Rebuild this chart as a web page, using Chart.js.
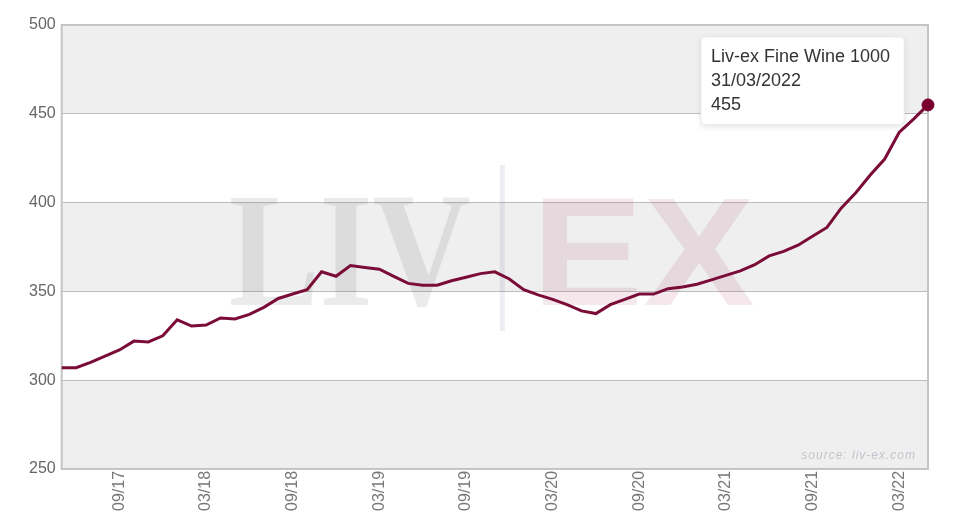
<!DOCTYPE html>
<html>
<head>
<meta charset="utf-8">
<title>Liv-ex Fine Wine 1000</title>
<script src="https://cdn.jsdelivr.net/npm/chart.js"></script>
<style>
    html, body { margin: 0; padding: 0; background: #fff; }
    canvas { display: block; }
</style>
</head>
<body>
<canvas id="lx1000" width="970" height="532"></canvas>
<script>
// monthly index values, first to last point (31/03/2022 = 455)
var seriesName = 'Liv-ex Fine Wine 1000'
var lastDate = '31/03/2022'
var indexValues = [
    307, 307, 310, 313.5, 317, 322, 321.5, 325, 334, 330.5,
    331, 335, 334.5, 337, 341, 346, 348.5, 351, 361, 358.5,
    364.5, 363.5, 362.5, 358.5, 354.5, 353.5, 353.5, 356, 358, 360,
    361, 357, 351, 348, 345.5, 342.5, 339, 337.5, 342.5, 345.5,
    348.5, 348.5, 351.5, 352.5, 354, 356.5, 359, 361.5, 365, 370,
    372.5, 376, 381, 386, 397, 405.5, 415.5, 424.5, 439.5, 447,
    455
]
var tickPositions = [4, 10, 16, 22, 28, 34, 40, 46, 52, 58]
var tickLabels = ['09/17', '03/18', '09/18', '03/19', '09/19', '03/20', '09/20', '03/21', '09/21', '03/22']
var yTicks = [250, 300, 350, 400, 450, 500]
var grayBands = [[250, 300], [350, 400], [450, 500]]

var lineColor = '#7a0c37'
var lastIndex = indexValues.length - 1

Chart.defaults.font.family = '"Liberation Sans", Arial, sans-serif'

// tooltip sits fixed in the top right corner of the plot
Chart.Tooltip.positioners.corner = function() {
    var area = this.chart.chartArea
    return { x: area.right - 223, y: area.top + 12 }
}

var backdrop = {
    id: 'backdrop',
    beforeDraw: function(chart) {
        var ctx = chart.ctx, area = chart.chartArea, y = chart.scales.y
        ctx.save()
        ctx.fillStyle = '#fff'
        ctx.fillRect(0, 0, chart.width, chart.height)
        ctx.fillStyle = '#efefef'
        grayBands.forEach(function(b) {
            var top = y.getPixelForValue(b[1])
            var bottom = y.getPixelForValue(b[0])
            ctx.fillRect(area.left, top, area.right - area.left, bottom - top)
        })
        ctx.restore()
    },
    beforeDatasetsDraw: function(chart) {
        var ctx = chart.ctx, area = chart.chartArea
        var cx = (area.left + area.right) / 2
        var cy = (area.top + area.bottom) / 2
        var w

        // LIV | EX watermark
        ctx.save()
        ctx.textBaseline = 'alphabetic'
        ctx.textAlign = 'left'
        ctx.fillStyle = 'rgba(0, 0, 0, 0.08)'
        ctx.font = '700 163px "Liberation Serif"'
        w = ctx.measureText('LIV').width
        ctx.translate(cx - 266, cy + 58)
        ctx.scale(242 / w, 1)
        ctx.fillText('LIV', 0, 0)
        ctx.restore()

        ctx.save()
        ctx.strokeStyle = 'rgba(60, 60, 130, 0.09)'
        ctx.lineWidth = 5
        ctx.beginPath()
        ctx.moveTo(cx + 7.5, cy - 82)
        ctx.lineTo(cx + 7.5, cy + 84)
        ctx.stroke()
        ctx.restore()

        ctx.save()
        ctx.textBaseline = 'alphabetic'
        ctx.textAlign = 'left'
        ctx.fillStyle = 'rgba(150, 30, 80, 0.1)'
        ctx.font = '700 154px "Liberation Sans"'
        w = ctx.measureText('EX').width
        ctx.translate(cx + 37, cy + 58)
        ctx.scale(223 / w, 1)
        ctx.fillText('EX', 0, 0)
        ctx.restore()

        // source note
        ctx.save()
        ctx.font = 'italic 12px "Liberation Sans"'
        ctx.fillStyle = '#c2c5cd'
        ctx.textAlign = 'right'
        ctx.letterSpacing = '1px'
        ctx.fillText('source: liv-ex.com', area.right - 12, area.bottom - 10)
        ctx.restore()

        // plot frame
        ctx.save()
        ctx.strokeStyle = '#c4c4c4'
        ctx.lineWidth = 2
        ctx.strokeRect(area.left, area.top, area.right - area.left, area.bottom - area.top)
        ctx.restore()
    },
    beforeTooltipDraw: function(chart, args) {
        var t = args.tooltip, ctx = chart.ctx
        ctx.save()
        ctx.shadowColor = 'rgba(0, 0, 0, 0.12)'
        ctx.shadowBlur = 6
        ctx.shadowOffsetY = 2
        ctx.fillStyle = '#fff'
        ctx.beginPath()
        ctx.roundRect(t.x, t.y, t.width, t.height, 4)
        ctx.fill()
        ctx.restore()
    }
}

var ctx = document.getElementById('lx1000')
var chartLine = new Chart(ctx, {
    type: 'line',
    data: {
        datasets: [{
            label: seriesName,
            data: indexValues.map(function(v, i) { return { x: i, y: v } }),
            borderColor: lineColor,
            backgroundColor: lineColor,
            borderWidth: 3,
            fill: false,
            tension: 0,
            clip: false,
            pointRadius: function(c) { return c.dataIndex === lastIndex ? 6 : 0 },
            pointHoverRadius: 6,
            pointBorderWidth: 0
        }]
    },
    options: {
        responsive: false,
        animation: false,
        events: [],
        layout: {
            padding: { left: 23, right: 42, top: 25, bottom: 19 }
        },
        scales: {
            x: {
                type: 'linear',
                min: 0,
                max: lastIndex,
                grid: { display: false, drawTicks: false },
                border: { display: false },
                afterBuildTicks: function(axis) {
                    axis.ticks = tickPositions.map(function(v) { return { value: v } })
                },
                ticks: {
                    autoSkip: false,
                    minRotation: 90,
                    maxRotation: 90,
                    padding: 2,
                    color: '#777',
                    font: { size: 16 },
                    callback: function(value) {
                        var k = tickPositions.indexOf(value)
                        return k < 0 ? '' : tickLabels[k]
                    }
                }
            },
            y: {
                min: yTicks[0],
                max: yTicks[yTicks.length - 1],
                grid: { color: '#bdbdbd', lineWidth: 1, drawTicks: false },
                border: { display: false },
                ticks: {
                    stepSize: 50,
                    padding: 6,
                    color: '#666',
                    font: { size: 16 }
                }
            }
        },
        plugins: {
            legend: { display: false },
            tooltip: {
                position: 'corner',
                xAlign: 'left',
                yAlign: 'top',
                caretSize: 0,
                caretPadding: 0,
                cornerRadius: 4,
                padding: { left: 10, right: 14, top: 9, bottom: 9 },
                backgroundColor: 'rgba(255, 255, 255, 0.97)',
                borderColor: '#ececec',
                borderWidth: 1,
                displayColors: false,
                titleColor: '#333',
                bodyColor: '#333',
                titleFont: { size: 18, weight: 'normal' },
                bodyFont: { size: 18 },
                titleMarginBottom: 2.4,
                bodySpacing: 2.4,
                callbacks: {
                    title: function(items) { return items[0].dataset.label },
                    label: function(item) {
                        return [lastDate, String(item.parsed.y)]
                    }
                }
            }
        }
    },
    plugins: [backdrop]
});

chartLine.tooltip.setActiveElements([{ datasetIndex: 0, index: lastIndex }], { x: 0, y: 0 })
chartLine.setActiveElements([{ datasetIndex: 0, index: lastIndex }])
chartLine.update()
</script>
</body>
</html>
